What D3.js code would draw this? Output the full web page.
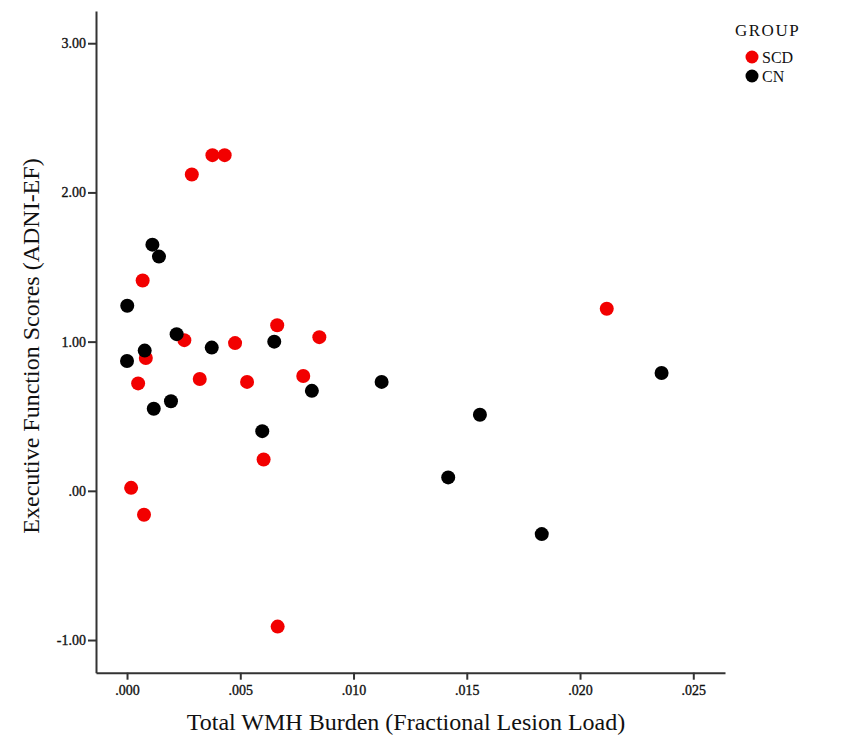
<!DOCTYPE html>
<html>
<head>
<meta charset="utf-8">
<script src="https://cdn.jsdelivr.net/npm/d3@7"></script>
<style>
  body { margin: 0; background: #fff; }
  svg text { font-family: "Liberation Serif", "DejaVu Serif", serif; fill: #111; }
</style>
</head>
<body>
<div id="chart"></div>
<script>
// SCD group: total WMH burden vs ADNI-EF
const scdWmh = [0.00286, 0.00377, 0.00431, 0.00069, 0.00663, 0.00253, 0.00477, 0.00083, 0.00049,
  0.00321, 0.00530, 0.00603, 0.00018, 0.00075, 0.00849, 0.00778, 0.02118, 0.00665]
const scdEf = [2.12, 2.25, 2.25, 1.41, 1.11, 1.01, 0.99, 0.89, 0.72,
  0.75, 0.73, 0.21, 0.02, -0.16, 1.03, 0.77, 1.22, -0.91]

// CN group
const cnWmh = [0.00112, 0.00141, 0.00001, 0.00219, 0.00374, 0.00650, 0.00078, 0.00000, 0.00118,
  0.00194, 0.00597, 0.00816, 0.01124, 0.02360, 0.01558, 0.01418, 0.01831]
const cnEf = [1.65, 1.57, 1.24, 1.05, 0.96, 1.00, 0.94, 0.87, 0.55,
  0.60, 0.40, 0.67, 0.73, 0.79, 0.51, 0.09, -0.29]

const xTicks = [0, 0.005, 0.010, 0.015, 0.020, 0.025]
const yTicks = [-1, 0, 1, 2, 3]
const groups = ['SCD', 'CN']
const groupColors = ['#f20000', '#000000']

const width = 850
const height = 740

const svg = d3.select('#chart')
  .append('svg')
  .attr('width', width)
  .attr('height', height)

const x = d3.scaleLinear()
  .domain([-0.00137, 0.0264])
  .range([96, 725])

const y = d3.scaleLinear()
  .domain([-1.219, 3.216])
  .range([672.7, 11])

// SPSS style numbers without the leading zero
const noLead = digits => d => d.toFixed(digits).replace(/^(-?)0\./, '$1.')

// X axis
const xAxis = svg.append('g')
  .attr('transform', `translate(0, ${y.range()[0]})`)
  .call(d3.axisBottom(x).tickValues(xTicks).tickFormat(noLead(3)).tickSize(7).tickSizeOuter(0).tickPadding(5))

// Y axis
const yAxis = svg.append('g')
  .attr('transform', `translate(${x.range()[0]}, 0)`)
  .call(d3.axisLeft(y).tickValues(yTicks).tickFormat(noLead(2)).tickSize(8).tickSizeOuter(0).tickPadding(2))

svg.selectAll('.tick text')
  .style('font-size', '14px')
  .attr('stroke', '#111')
  .attr('stroke-width', 0.35)

svg.selectAll('.domain, .tick line')
  .attr('stroke', '#333')
  .attr('stroke-width', 2)

// axis titles
svg.append('text')
  .attr('x', 406)
  .attr('y', 730)
  .attr('text-anchor', 'middle')
  .style('font-size', '24px')
  .text('Total WMH Burden (Fractional Lesion Load)')

svg.append('text')
  .attr('transform', 'translate(39, 346) rotate(-90)')
  .attr('text-anchor', 'middle')
  .style('font-size', '24px')
  .text('Executive Function Scores (ADNI-EF)')

// points, CN drawn over SCD
const scdData = scdWmh.map((v, i) => ({ wmh: v, ef: scdEf[i] }))
const cnData = cnWmh.map((v, i) => ({ wmh: v, ef: cnEf[i] }))

svg.append('g').selectAll('circle')
  .data(scdData)
  .join('circle')
  .attr('cx', d => x(d.wmh))
  .attr('cy', d => y(d.ef))
  .attr('r', 7)
  .attr('fill', groupColors[0])

svg.append('g').selectAll('circle')
  .data(cnData)
  .join('circle')
  .attr('cx', d => x(d.wmh))
  .attr('cy', d => y(d.ef))
  .attr('r', 7)
  .attr('fill', groupColors[1])

// legend
const legend = svg.append('g')
  .attr('transform', 'translate(735, 0)')

legend.append('text')
  .attr('x', 0)
  .attr('y', 36)
  .style('font-size', '17px')
  .style('letter-spacing', '1.5px')
  .text('GROUP')

const items = legend.selectAll('g.item')
  .data(groups)
  .join('g')
  .attr('class', 'item')
  .attr('transform', (d, i) => `translate(0, ${57 + i * 19})`)

items.append('circle')
  .attr('cx', 17)
  .attr('cy', 0)
  .attr('r', 6.5)
  .attr('fill', (d, i) => groupColors[i])

items.append('text')
  .attr('x', 27)
  .attr('y', 6)
  .style('font-size', '16px')
  .text(d => d)
</script>
</body>
</html>
